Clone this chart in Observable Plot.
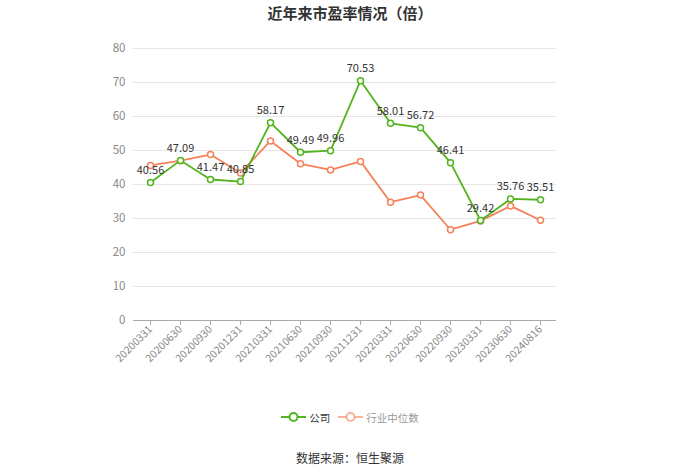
<!DOCTYPE html>
<html><head><meta charset="utf-8">
<script src="https://cdn.jsdelivr.net/npm/d3@7"></script>
<script src="https://cdn.jsdelivr.net/npm/@observablehq/plot@0.6"></script>
<style>
body{margin:0;background:#fff;font-family:"Noto Sans CJK SC","Noto Sans",sans-serif;}
#wrap{position:relative;width:700px;height:474px;}
#title{position:absolute;top:0;left:0;width:700px;height:26px;line-height:26px;text-align:center;font-size:15px;font-weight:bold;color:#333;}
#chart{position:absolute;top:26px;left:0;}
#legend{position:absolute;top:406px;left:0;width:700px;height:22px;display:flex;justify-content:center;align-items:center;font-size:10.5px;}
.li{display:flex;align-items:center;margin:0 4px;}
#caption{position:absolute;top:448px;left:0;width:700px;text-align:center;font-size:12px;color:#333;line-height:20px;}
</style></head>
<body><div id="wrap">
<div id="title">近年来市盈率情况（倍）</div>
<div id="chart"></div>
<div id="legend"></div>
<div id="caption">数据来源：恒生聚源</div>
</div>
<script>
const categories = ["20200331","20200630","20200930","20201231","20210331","20210630","20210930","20211231","20220331","20220630","20220930","20230331","20230630","20240816"];
const company = [40.56,47.09,41.47,40.85,58.17,49.49,49.96,70.53,58.01,56.72,46.41,29.42,35.76,35.51];
const industry = [45.6,47.0,48.8,43.4,52.8,46.1,44.3,46.8,34.8,36.9,26.7,29.3,33.7,29.5];
const yTicks = [0,10,20,30,40,50,60,70,80];
const seriesNames = ["公司","行业中位数"];
const colors = ["#52b41f","#f4825a"];

const comp = categories.map((c,i)=>({c, v: company[i]}));
const ind = categories.map((c,i)=>({c, v: industry[i]}));

const chart = Plot.plot({
  width: 700, height: 370,
  marginLeft: 133, marginRight: 144, marginTop: 22, marginBottom: 76,
  style: {fontFamily: '"Noto Sans CJK SC","Noto Sans",sans-serif', fontSize: "11px"},
  x: {type: "point", domain: categories, padding: 0.5, label: null},
  y: {domain: [0, 80], label: null},
  marks: [
    Plot.gridY(yTicks, {stroke: "#e6e6e6", strokeOpacity: 1}),
    Plot.axisY(yTicks, {tickSize: 0, tickPadding: 8, fill: "#888", fontSize: 11.5, label: null}),
    Plot.ruleY([0], {stroke: "#aaa"}),
    Plot.axisX({tickSize: 5, stroke: "#aaa", tickRotate: -45, tickPadding: 2, fill: "#888", fontSize: 10.5, label: null}),
    Plot.line(ind, {x: "c", y: "v", stroke: colors[1], strokeWidth: 1.8}),
    Plot.dot(ind, {x: "c", y: "v", r: 3, stroke: colors[1], fill: "#fff", strokeWidth: 1.5}),
    Plot.line(comp, {x: "c", y: "v", stroke: colors[0], strokeWidth: 1.8}),
    Plot.dot(comp, {x: "c", y: "v", r: 3, stroke: colors[0], fill: "#fff", strokeWidth: 1.5}),
    Plot.text(comp, {x: "c", y: "v", text: d => d.v.toFixed(2), dy: -12, fill: "#333", fontSize: 11})
  ]
});
document.getElementById("chart").appendChild(chart);

const legend = document.getElementById("legend");
seriesNames.forEach((n,i)=>{
  const item = document.createElement("div");
  item.className = "li";
  item.innerHTML = `<svg width="25" height="12"><line x1="0" y1="6" x2="25" y2="6" stroke="${colors[i]}" stroke-width="2" ${i?'stroke-opacity="0.6"':''}/><circle cx="12.5" cy="6" r="4" fill="#fff" stroke="${colors[i]}" stroke-width="2" ${i?'stroke-opacity="0.6"':''}/></svg><span style="margin-left:3px;color:${i?'#999':'#333'}">${n}</span>`;
  legend.appendChild(item);
});
</script>
</body></html>
